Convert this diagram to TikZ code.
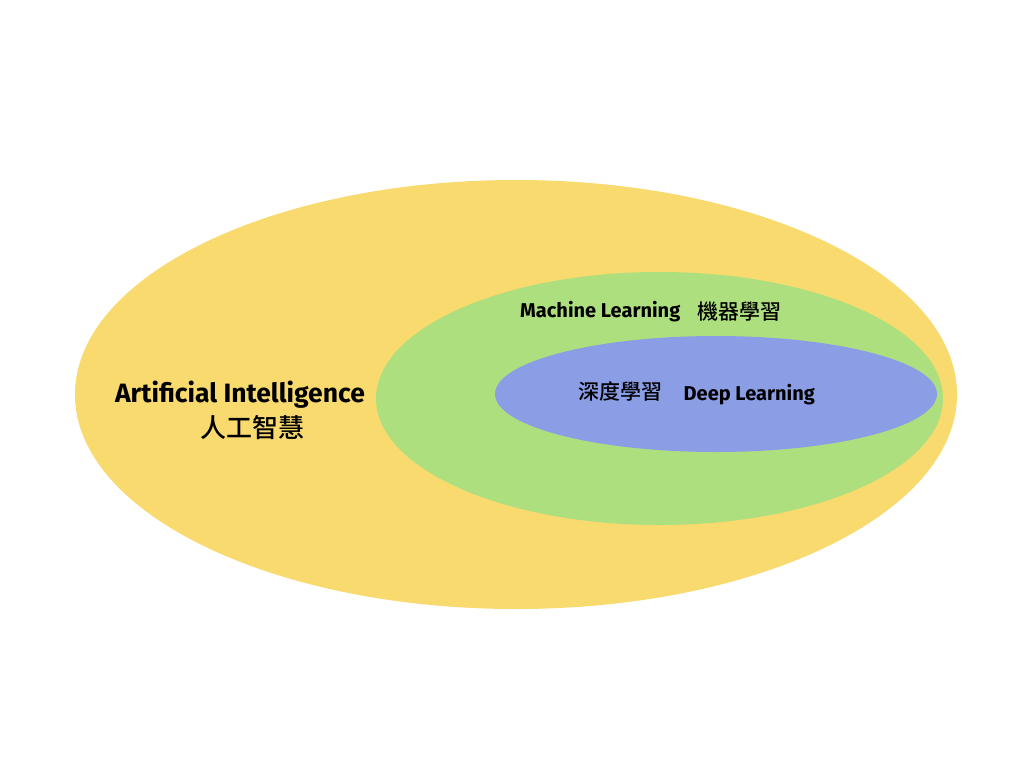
\documentclass[tikz,border=0pt]{standalone}
\usepackage{fontspec}
\setmainfont{Fira Sans}
\newfontfamily\cjk{Noto Sans CJK TC Medium}
\usetikzlibrary{shapes.geometric}
\definecolor{aiY}{HTML}{F8DA6E}
\definecolor{mlG}{HTML}{AEDF7E}
\definecolor{dlB}{HTML}{8A9DE5}
\tikzset{
  zone/.style={ellipse, inner sep=0pt, draw=none},
  lab/.style={inner sep=0pt, anchor=base, text=black},
  bigen/.style={lab, font=\bfseries\fontsize{26.5}{30}\selectfont},
  bigcn/.style={lab, font=\cjk\fontsize{26}{30}\selectfont},
  smen/.style={lab, font=\bfseries\fontsize{20}{24}\selectfont},
  smcn/.style={lab, font=\cjk\fontsize{21}{24}\selectfont}
}
\begin{document}
\begin{tikzpicture}[x=1pt,y=-1pt]
\useasboundingbox (0,0) rectangle (1024,768);
\fill[white] (0,0) rectangle (1024,768);
\node[zone, fill=aiY, minimum width=882pt, minimum height=429pt] (ai) at (516,394.5) {};
\node[zone, fill=mlG, minimum width=567pt, minimum height=253pt] (ml) at (659.5,398.5) {};
\node[zone, fill=dlB, minimum width=442pt, minimum height=116pt] (dl) at (716,394) {};
\node[bigen] (aien) at (240,402) {Artificial Intelligence};
\node[bigcn] (aicn) at (252.5,437) {人工智慧};
\node[smen, anchor=base west] (mlen) at (520,317) {Machine Learning};
\node[smcn, anchor=base east] (mlcn) at (782,319.5) {機器學習};
\node[smcn, anchor=base west] (dlcn) at (578,399.5) {深度學習};
\node[smen, anchor=base east] (dlen) at (815,400) {Deep Learning};
\end{tikzpicture}
\end{document}
